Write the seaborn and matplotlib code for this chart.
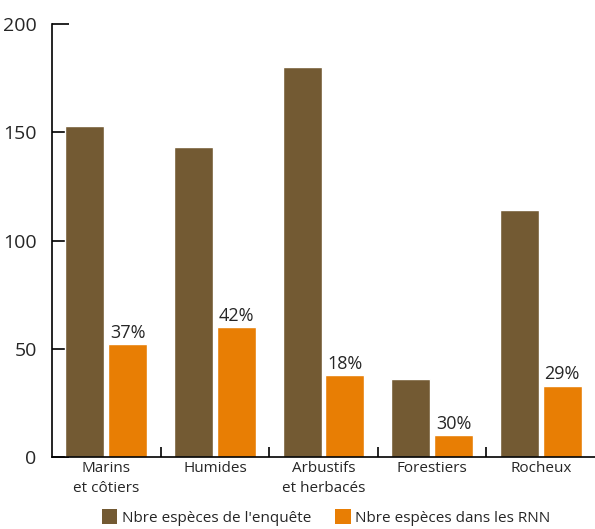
import matplotlib
matplotlib.use("Agg")
import matplotlib.pyplot as plt
import seaborn as sns
import pandas as pd
from matplotlib.patches import Patch

categories = ["Marins\net côtiers", "Humides", "Arbustifs\net herbacés", "Forestiers", "Rocheux"]
enquete = [153, 143, 180, 36, 114]
rnn = [52, 60, 38, 10, 33]
pct_labels = ["37%", "42%", "18%", "30%", "29%"]
series = ["Nbre espèces de l'enquête", "Nbre espèces dans les RNN"]
yticks = [0, 50, 100, 150, 200]

df = pd.DataFrame({
    "cat": categories * 2,
    "val": enquete + rnn,
    "serie": [series[0]] * len(categories) + [series[1]] * len(categories),
})

colors = ["#735A33", "#E87E04"]

sns.set_theme(style="white")
plt.rcParams["font.family"] = ["Open Sans", "DejaVu Sans"]

fig = plt.figure(figsize=(5.95, 5.29), dpi=100)
ax = fig.add_axes([52 / 595, 1 - 457 / 529, 1 - 52 / 595, (457 - 24) / 529])

sns.barplot(data=df, x="cat", y="val", hue="serie", palette=colors,
            width=0.79, gap=0.09, ax=ax, legend=False, saturation=1,
            order=categories, hue_order=series)

ax.set_xlim(-0.5, 4.5)
ax.set_ylim(0, 200)
ax.set_yticks(yticks)
ax.set_yticklabels([str(t) for t in yticks], fontsize=14)
ax.set_xlabel("")
ax.set_ylabel("")

for s in ["top", "right"]:
    ax.spines[s].set_visible(False)
for s in ["left", "bottom"]:
    ax.spines[s].set_color("black")
    ax.spines[s].set_linewidth(1.2)

ax.tick_params(axis="y", direction="in", length=12, width=1.2, color="black", pad=11, left=True)
ax.tick_params(axis="x", length=0, pad=3, labelsize=11)
for lab in ax.get_xticklabels():
    lab.set_multialignment("center")
    lab.set_linespacing(1.45)

ax.set_xticks([0.5, 1.5, 2.5, 3.5], minor=True)
ax.tick_params(axis="x", which="minor", direction="in", length=7, width=1.2, color="black", bottom=True)

# percentage labels over the orange bars
orange_bars = ax.containers[1]
for bar, lab in zip(orange_bars, pct_labels):
    ax.annotate(lab, (bar.get_x() + bar.get_width() / 2, bar.get_height()),
                xytext=(0, 1.5), textcoords="offset points",
                ha="center", va="bottom", fontsize=13)

handles = [Patch(facecolor=c, edgecolor="none") for c in colors]
fig.legend(handles, series, loc="center", bbox_to_anchor=(0.548, 0.022),
           ncol=2, frameon=False, fontsize=11, handlelength=1.0, handleheight=1.1,
           handletextpad=0.3, columnspacing=1.6, borderaxespad=0)

fig.savefig("out.png", dpi=100)
